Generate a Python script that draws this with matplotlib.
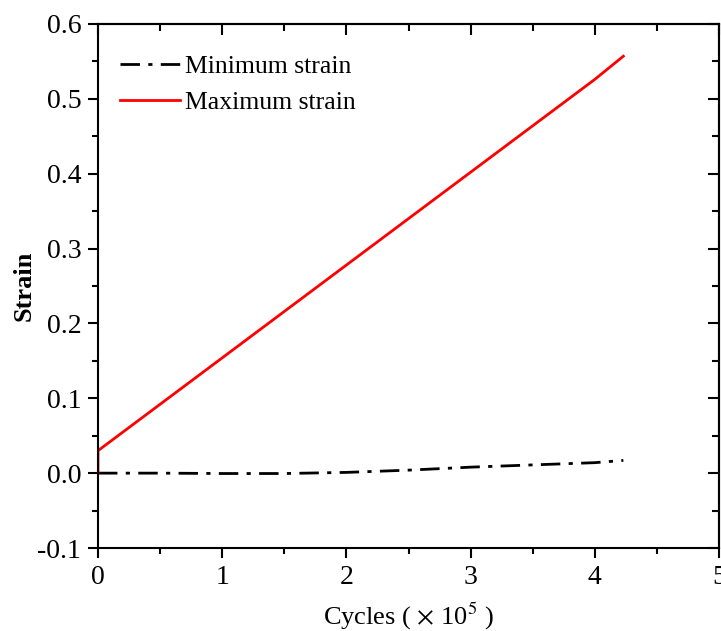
import matplotlib
matplotlib.use("Agg")
import matplotlib.pyplot as plt
from matplotlib.ticker import MultipleLocator

cycles_max = [0.0, 0.0, 1.0, 2.0, 3.0, 4.0, 4.23]
strain_max = [0.0, 0.030, 0.154, 0.278, 0.402, 0.526, 0.557]

cycles_min = [0.0, 0.5, 1.0, 1.5, 2.0, 2.5, 3.0, 3.5, 4.0, 4.23]
strain_min = [0.0, 0.0, -0.0005, -0.0005, 0.001, 0.004, 0.008, 0.011, 0.014, 0.017]

plt.rcParams['font.family'] = ['Liberation Serif', 'DejaVu Serif']
plt.rcParams['mathtext.fontset'] = 'stix'

fig = plt.figure(figsize=(7.21, 6.31), dpi=100)
ax = fig.add_axes([98/721, 1-548/631, (719-98)/721, (548-24)/631])

ax.plot(cycles_min, strain_min, color='black', lw=2, linestyle=(0, (7, 3, 1.5, 3)), label='Minimum strain')
ax.plot(cycles_max, strain_max, color='#ff0000', lw=2, label='Maximum strain')

ax.set_xlim(0, 5)
ax.set_ylim(-0.1, 0.6)
ax.xaxis.set_major_locator(MultipleLocator(1))
ax.xaxis.set_minor_locator(MultipleLocator(0.5))
ax.yaxis.set_major_locator(MultipleLocator(0.1))
ax.yaxis.set_minor_locator(MultipleLocator(0.05))
ax.yaxis.set_major_formatter(matplotlib.ticker.FormatStrFormatter('%.1f'))

for s in ax.spines.values():
    s.set_linewidth(1.5)

ax.tick_params(which='both', direction='out', width=1.5, labelsize=20, top=False, right=False)
ax.tick_params(which='major', length=7, pad=5)
ax.tick_params(which='minor', length=4)

# inward ticks on top and right
axt = ax.secondary_xaxis('top')
axt.xaxis.set_major_locator(MultipleLocator(1))
axt.xaxis.set_minor_locator(MultipleLocator(0.5))
axt.tick_params(which='both', direction='in', width=1.5, labeltop=False)
axt.tick_params(which='major', length=8)
axt.tick_params(which='minor', length=5)
axt.spines['top'].set_linewidth(1.5)
axr = ax.secondary_yaxis('right')
axr.yaxis.set_major_locator(MultipleLocator(0.1))
axr.yaxis.set_minor_locator(MultipleLocator(0.05))
axr.tick_params(which='both', direction='in', width=1.5, labelright=False)
axr.tick_params(which='major', length=8)
axr.tick_params(which='minor', length=5)
axr.spines['right'].set_linewidth(1.5)

ax.set_xlabel(r'Cycles ( $\times$ 10$^5$ )', fontsize=19, labelpad=8)
ax.set_ylabel('Strain', fontsize=19, fontweight='bold', labelpad=1)

leg = ax.legend(loc='upper left', bbox_to_anchor=(0.0354, 0.941), frameon=False,
                fontsize=18.5, handlelength=2.33, handletextpad=0.2,
                labelspacing=0.5, borderaxespad=0, borderpad=0)

fig.savefig('out.png', dpi=100)
